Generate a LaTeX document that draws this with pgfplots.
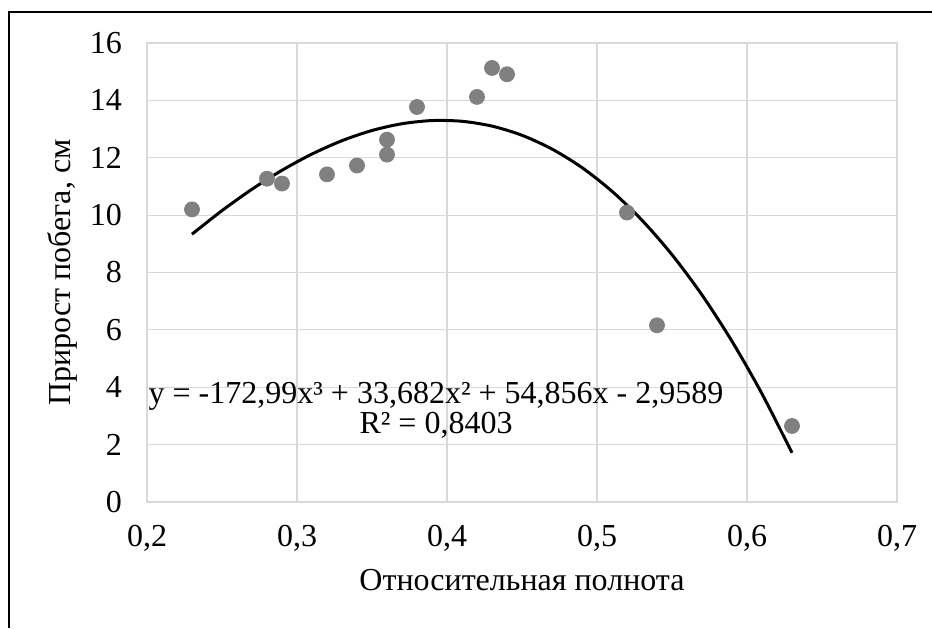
\documentclass[border=0pt]{standalone}
\usepackage{pgfplots}
\pgfplotsset{compat=1.18}
\usepackage{fontspec}
\setmainfont{Liberation Serif}
\definecolor{gridgray}{RGB}{217,217,217}
\definecolor{markgray}{RGB}{128,128,128}
\begin{document}
\begin{tikzpicture}
\useasboundingbox (0,0) rectangle (466pt,314pt);
\draw[black, line width=0.7pt] (4.5pt,0) -- (4.5pt,308pt) -- (466pt,308pt);
\begin{axis}[
  at={(73.5pt,63pt)}, anchor=south west,
  scale only axis, width=375pt, height=229.5pt,
  xmin=0.2, xmax=0.7, ymin=0, ymax=16,
  xtick={0.2,0.3,0.4,0.5,0.6,0.7}, ytick={0,2,4,6,8,10,12,14,16},
  grid=major, grid style={gridgray, line width=0.6pt},
  axis line style={gridgray, line width=0.6pt},
  major tick length=0pt,
  tick label style={font=\fontsize{16}{19}\selectfont},
  /pgf/number format/assume math mode=true,
  xticklabel style={/pgf/number format/.cd, use comma, fixed, fixed zerofill, precision=1, /tikz/.cd, yshift=-8pt},
  yticklabel style={xshift=-9pt},
  xlabel={Относительная полнота},
  ylabel={Прирост побега, см},
  label style={font=\fontsize{16}{19}\selectfont},
  xlabel style={at={(axis description cs:0.5,-0.170)}, anchor=center},
  ylabel style={at={(axis description cs:-0.1133,0.5)}, anchor=center},
  clip=false,
]
\addplot[only marks, mark=*, mark size=3.75pt, draw=markgray, fill=markgray] coordinates {
(0.23,10.2) (0.28,11.27) (0.29,11.1) (0.32,11.42) (0.34,11.73)
(0.36,12.63) (0.36,12.11) (0.38,13.77) (0.42,14.12) (0.43,15.13)
(0.44,14.91) (0.52,10.09) (0.54,6.16) (0.63,2.65)
};
\addplot[black, line width=1.5pt, smooth] coordinates {
(0.23,9.335) (0.25,10.157) (0.27,10.903) (0.29,11.563) (0.31,12.130)
(0.33,12.595) (0.35,12.950) (0.37,13.186) (0.39,13.296) (0.41,13.271)
(0.43,13.103) (0.45,12.783) (0.47,12.303) (0.49,11.656) (0.51,10.831)
(0.53,9.822) (0.55,8.620) (0.57,7.216) (0.59,5.602) (0.61,3.771)
(0.63,1.713)
};
\end{axis}
\node[anchor=base, inner sep=0pt, font=\fontsize{16}{19}\selectfont] at (218pt,112.5pt) {y = -172,99x³ + 33,682x² + 54,856x - 2,9589};
\node[anchor=base, inner sep=0pt, font=\fontsize{16}{19}\selectfont] at (218pt,97.5pt) {R² = 0,8403};
\end{tikzpicture}
\end{document}
